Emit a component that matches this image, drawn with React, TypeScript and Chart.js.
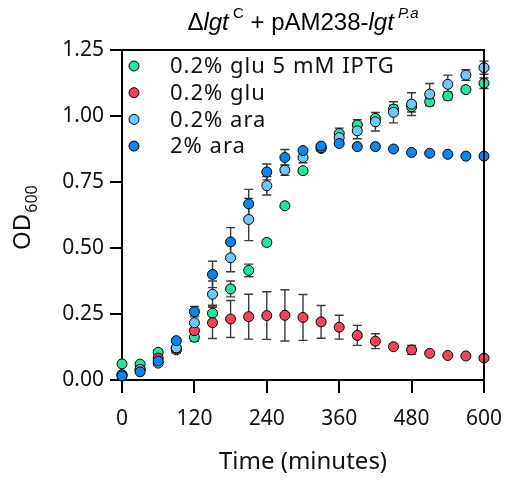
import React, { useEffect, useRef } from "react";
import { Chart, registerables } from "chart.js";

Chart.register(...registerables);

const times = [0, 30, 60, 90, 120, 150, 180, 210, 240, 270, 300, 330, 360, 390, 420, 450, 480, 510, 540, 570, 600];

const seriesLabels = ["0.2% glu 5 mM IPTG", "0.2% glu", "0.2% ara", "2% ara"];
const seriesColors = ["#22E69A", "#F4435E", "#70C9F5", "#0A84F2"];

const gluIptg = [0.061, 0.06, 0.105, 0.114, 0.162, 0.253, 0.345, 0.415, 0.521, 0.66, 0.793, 0.877, 0.934, 0.966, 0.991, 1.026, 1.035, 1.054, 1.076, 1.1, 1.124];
const glu = [0.02, 0.04, 0.083, 0.12, 0.187, 0.217, 0.231, 0.24, 0.244, 0.245, 0.237, 0.22, 0.2, 0.169, 0.147, 0.126, 0.114, 0.101, 0.093, 0.091, 0.083];
const ara02 = [0.02, 0.04, 0.064, 0.122, 0.217, 0.325, 0.463, 0.608, 0.736, 0.795, 0.843, 0.88, 0.918, 0.944, 0.978, 1.014, 1.045, 1.083, 1.12, 1.155, 1.183];
const ara2 = [0.015, 0.031, 0.072, 0.149, 0.259, 0.4, 0.523, 0.667, 0.788, 0.843, 0.869, 0.886, 0.896, 0.884, 0.884, 0.875, 0.862, 0.859, 0.855, 0.848, 0.848];

const gluIptgErr = [0, 0, 0.01, 0.01, 0.015, 0.03, 0.03, 0.024, 0.01, 0, 0.01, 0.01, 0.02, 0.02, 0.01, 0.015, 0.02, 0.015, 0.015, 0.01, 0.02];
const gluErr = [0, 0, 0.01, 0.01, 0.02, 0.06, 0.07, 0.085, 0.09, 0.097, 0.087, 0.062, 0.045, 0.038, 0.028, 0.01, 0.017, 0.005, 0, 0, 0];
const ara02Err = [0, 0, 0.01, 0.02, 0.03, 0.05, 0.053, 0.08, 0.035, 0.02, 0.02, 0.01, 0.015, 0.03, 0.035, 0.04, 0.043, 0.04, 0.035, 0.02, 0.025];
const ara2Err = [0, 0, 0, 0.01, 0.02, 0.05, 0.054, 0.055, 0.03, 0.03, 0, 0, 0, 0, 0, 0, 0, 0, 0, 0, 0];

const yTicks = [0, 0.25, 0.5, 0.75, 1.0, 1.25];
const xTicks = [0, 120, 240, 360, 480, 600];

const allValues = [gluIptg, glu, ara02, ara2];
const allErrors = [gluIptgErr, gluErr, ara02Err, ara2Err];

const errorBarPlugin = {
  id: "errorBars",
  beforeDatasetsDraw(chart: any) {
    const ctx = chart.ctx;
    const xs = chart.scales.x;
    const ys = chart.scales.y;
    ctx.save();
    ctx.strokeStyle = "#3a3a3a";
    ctx.lineWidth = 1.4;
    chart.data.datasets.forEach((ds: any) => {
      const errs: number[] = ds.errors || [];
      ds.data.forEach((p: any, i: number) => {
        const e = errs[i];
        if (!e) return;
        const x = xs.getPixelForValue(p.x);
        const y1 = ys.getPixelForValue(p.y + e);
        const y2 = ys.getPixelForValue(p.y - e);
        ctx.beginPath();
        ctx.moveTo(x, y1);
        ctx.lineTo(x, y2);
        ctx.moveTo(x - 4.5, y1);
        ctx.lineTo(x + 4.5, y1);
        ctx.moveTo(x - 4.5, y2);
        ctx.lineTo(x + 4.5, y2);
        ctx.stroke();
      });
    });
    ctx.restore();
  },
};

const framePlugin = {
  id: "frameAndText",
  afterDraw(chart: any) {
    const ctx = chart.ctx;
    const a = chart.chartArea;
    ctx.save();
    // top and right frame
    ctx.strokeStyle = "#000";
    ctx.lineWidth = 2;
    ctx.beginPath();
    ctx.moveTo(a.left - 1, a.top);
    ctx.lineTo(a.right, a.top);
    ctx.lineTo(a.right, a.bottom);
    ctx.stroke();

    // legend
    ctx.textBaseline = "middle";
    ctx.textAlign = "left";
    ctx.font = "22px 'Noto Sans'";
    (ctx as any).letterSpacing = "1px";
    chart.data.datasets.forEach((ds: any, i: number) => {
      const cy = a.top + 16 + i * 26.7;
      const cx = a.left + 12;
      ctx.beginPath();
      ctx.arc(cx, cy, 5, 0, Math.PI * 2);
      ctx.fillStyle = ds.backgroundColor;
      ctx.fill();
      ctx.lineWidth = 1;
      ctx.strokeStyle = "#000";
      ctx.stroke();
      ctx.fillStyle = "#111";
      ctx.fillText(ds.label, a.left + 48, cy + 1);
    });
    (ctx as any).letterSpacing = "0px";

    // title
    const parts: [string, string, number][] = [
      ["\u0394", "24px 'Liberation Sans'", 0],
      ["lgt", "italic 24px 'Liberation Sans'", 0],
      [" C", "15px 'Liberation Sans'", -12],
      [" + pAM238-", "24px 'Liberation Sans'", 0],
      ["lgt", "italic 24px 'Liberation Sans'", 0],
      [" P.a", "italic 15px 'Liberation Sans'", -12],
    ];
    ctx.textBaseline = "alphabetic";
    ctx.fillStyle = "#000";
    let total = 0;
    parts.forEach((p) => {
      ctx.font = p[1];
      total += ctx.measureText(p[0]).width;
    });
    let x = (a.left + a.right) / 2 - total / 2;
    parts.forEach((p) => {
      ctx.font = p[1];
      ctx.fillText(p[0], x, 30 + p[2]);
      x += ctx.measureText(p[0]).width;
    });

    // y axis title OD600
    ctx.translate(30, 250);
    ctx.rotate(-Math.PI / 2);
    ctx.fillStyle = "#111";
    ctx.font = "24px 'Noto Sans'";
    ctx.fillText("OD", 0, 0);
    const w = ctx.measureText("OD").width;
    ctx.font = "16px 'Noto Sans'";
    ctx.fillText("600", w + 1, 7);
    ctx.restore();
  },
};

export default function App() {
  const ref = useRef<HTMLCanvasElement | null>(null);
  useEffect(() => {
    if (!ref.current) return;
    const datasets = seriesLabels.map((label, si) => ({
      label,
      data: times.map((t, i) => ({ x: t, y: allValues[si][i] })),
      errors: allErrors[si],
      backgroundColor: seriesColors[si],
      borderColor: "#000",
      borderWidth: 1,
      pointRadius: 5,
      pointHoverRadius: 5,
      showLine: false,
      order: 3 - si,
      clip: false as any,
    }));
    const chart = new Chart(ref.current, {
      type: "scatter",
      data: { datasets: datasets as any },
      plugins: [errorBarPlugin, framePlugin],
      options: {
        animation: false,
        responsive: false,
        devicePixelRatio: 1,
        layout: { padding: { top: 50, right: 23, left: 0, bottom: 0 } },
        plugins: { legend: { display: false }, tooltip: { enabled: false } },
        scales: {
          x: {
            type: "linear",
            min: 0,
            max: 600,
            afterFit: (s: any) => {
              s.height = 104;
              s.paddingLeft = 0;
              s.paddingRight = 0;
            },
            afterBuildTicks: (s: any) => {
              s.ticks = xTicks.map((v) => ({ value: v }));
            },
            ticks: {
              color: "#111",
              font: { family: "'Noto Sans'", size: 21 },
              padding: 13,
              maxRotation: 0,
            },
            grid: {
              drawOnChartArea: false,
              drawTicks: true,
              tickLength: 13,
              color: "#000",
              lineWidth: 2,
            },
            border: { display: true, color: "#000", width: 2 },
            title: {
              display: true,
              text: "Time (minutes)",
              color: "#111",
              font: { family: "'Noto Sans'", size: 24 },
              padding: { top: 0, bottom: 7 },
            },
          },
          y: {
            type: "linear",
            min: 0,
            max: 1.25,
            afterFit: (s: any) => {
              s.width = 122;
              s.paddingTop = 0;
              s.paddingBottom = 0;
            },
            afterBuildTicks: (s: any) => {
              s.ticks = yTicks.map((v) => ({ value: v }));
            },
            ticks: {
              color: "#111",
              font: { family: "'Noto Sans'", size: 21 },
              padding: 6,
              callback: (v: any) => Number(v).toFixed(2),
            },
            grid: {
              drawOnChartArea: false,
              drawTicks: true,
              tickLength: 12,
              color: "#000",
              lineWidth: 2,
            },
            border: { display: true, color: "#000", width: 2 },
          },
        },
      } as any,
    });
    return () => chart.destroy();
  }, []);
  return (
    <div style={{ position: "fixed", left: 0, top: 0, width: 507, height: 484 }}>
      <canvas ref={ref} width={507} height={484} style={{ width: 507, height: 484, display: "block" }} />
    </div>
  );
}
